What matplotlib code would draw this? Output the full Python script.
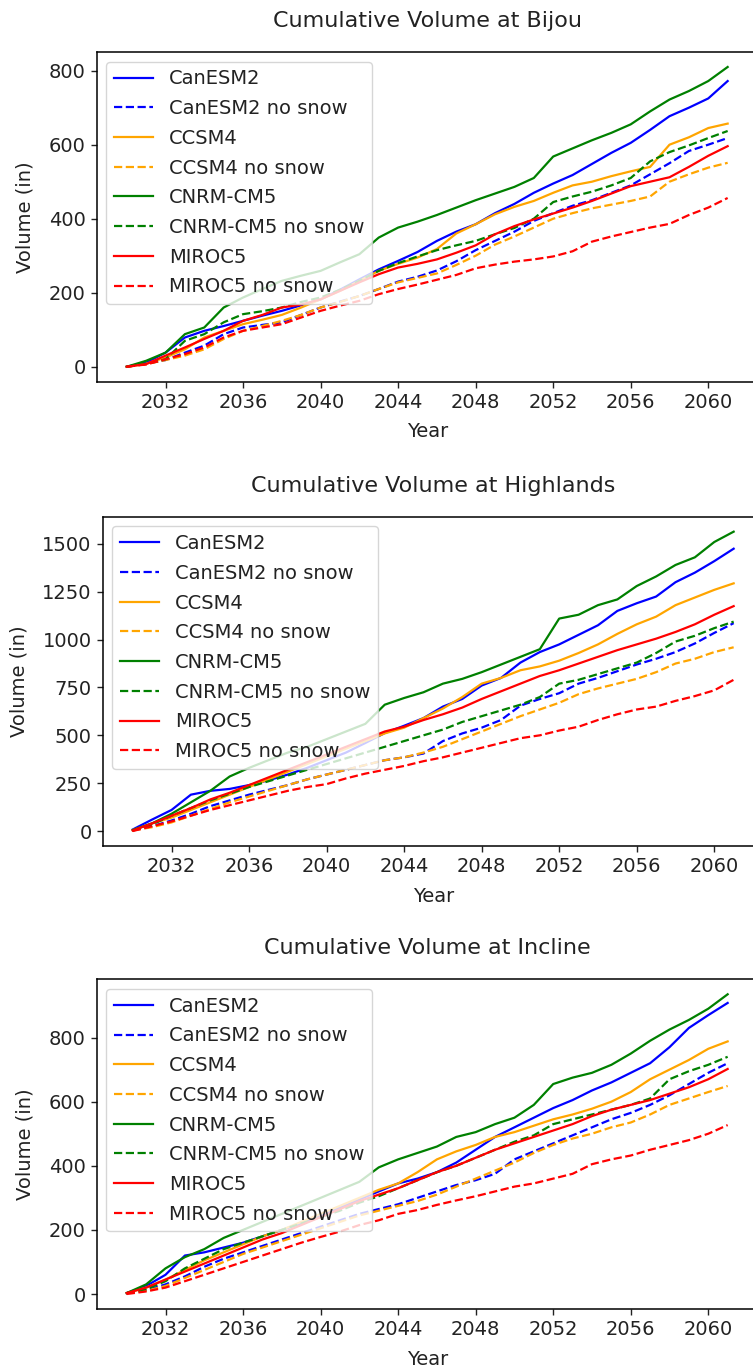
import numpy as np
import matplotlib
matplotlib.use('Agg')
import matplotlib.pyplot as plt

# yearly cumulative volume (in)
years = list(range(2030, 2062))

models = ['CanESM2', 'CCSM4', 'CNRM-CM5', 'MIROC5']
colors = ['blue', 'orange', 'green', 'red']
sites = ['Bijou', 'Highlands', 'Incline']

# Bijou
bijou_canesm2 = [0, 11, 38, 79, 97, 110, 124, 138, 151, 166, 182, 208, 236, 263, 286, 310,
                 340, 365, 385, 415, 440, 470, 495, 518, 548, 578, 605, 640, 677, 700, 725, 772]
bijou_canesm2_ns = [0, 8, 18, 38, 57, 88, 106, 113, 120, 140, 160, 176, 191, 210, 230, 243,
                    260, 285, 315, 340, 365, 394, 415, 435, 450, 470, 490, 520, 550, 583, 600, 618]
bijou_ccsm4 = [0, 8, 25, 47, 79, 97, 115, 127, 140, 160, 182, 205, 232, 259, 278, 295,
               318, 360, 385, 412, 432, 448, 470, 490, 500, 515, 528, 540, 600, 620, 645, 657]
bijou_ccsm4_ns = [0, 7, 18, 30, 47, 75, 97, 110, 124, 140, 160, 175, 191, 210, 228, 240,
                  252, 275, 300, 330, 352, 376, 400, 415, 428, 438, 448, 460, 500, 520, 538, 551]
bijou_cnrm = [0, 16, 38, 88, 106, 160, 187, 210, 232, 246, 259, 282, 304, 349, 376, 392,
              410, 430, 450, 468, 486, 510, 568, 590, 612, 632, 655, 690, 722, 745, 772, 810]
bijou_cnrm_ns = [0, 8, 20, 70, 88, 120, 142, 150, 160, 175, 187, 208, 232, 259, 280, 298,
                 315, 328, 340, 358, 375, 400, 445, 460, 473, 490, 510, 555, 580, 598, 618, 637]
bijou_miroc5 = [0, 7, 30, 52, 75, 97, 124, 140, 160, 168, 182, 205, 228, 250, 268, 278,
                290, 308, 328, 358, 380, 398, 414, 430, 448, 468, 488, 500, 512, 540, 570, 596]
bijou_miroc5_ns = [0, 6, 20, 34, 52, 79, 97, 106, 115, 133, 151, 165, 178, 196, 210, 222,
                   235, 248, 266, 276, 284, 290, 298, 312, 338, 352, 364, 376, 386, 410, 430, 456]

# Highlands
highlands_canesm2 = [8, 60, 110, 190, 210, 220, 240, 265, 295, 330, 370, 410, 460, 512, 550, 590,
                     650, 690, 760, 800, 880, 935, 975, 1025, 1075, 1150, 1190, 1225, 1300, 1350, 1410, 1475]
highlands_canesm2_ns = [3, 25, 55, 90, 130, 160, 190, 215, 240, 270, 295, 320, 345, 370, 385, 405,
                        470, 510, 540, 580, 655, 690, 720, 770, 800, 835, 870, 900, 935, 980, 1035, 1086]
highlands_ccsm4 = [5, 40, 70, 110, 150, 190, 230, 270, 310, 350, 390, 430, 470, 510, 540, 590,
                   640, 700, 770, 800, 840, 860, 890, 930, 975, 1030, 1080, 1120, 1180, 1220, 1260, 1294]
highlands_ccsm4_ns = [3, 20, 45, 80, 115, 150, 180, 210, 240, 270, 295, 320, 345, 370, 385, 410,
                      440, 480, 520, 560, 600, 635, 670, 715, 745, 770, 795, 830, 875, 900, 935, 960]
highlands_cnrm = [5, 40, 90, 150, 210, 285, 330, 370, 410, 440, 480, 520, 560, 660, 695, 725,
                  770, 795, 830, 870, 910, 950, 1110, 1130, 1180, 1210, 1280, 1330, 1390, 1430, 1510, 1564]
highlands_cnrm_ns = [3, 35, 80, 120, 160, 195, 230, 260, 290, 320, 350, 380, 410, 440, 470, 500,
                     530, 570, 600, 630, 660, 700, 770, 790, 820, 850, 880, 930, 990, 1020, 1060, 1094]
highlands_miroc5 = [3, 40, 80, 120, 165, 200, 240, 280, 320, 360, 400, 440, 480, 520, 545, 580,
                    610, 645, 690, 730, 770, 810, 840, 875, 910, 945, 975, 1005, 1040, 1080, 1130, 1175]
highlands_miroc5_ns = [0, 25, 50, 80, 110, 135, 160, 185, 210, 230, 245, 275, 300, 320, 340, 365,
                       385, 410, 435, 460, 485, 500, 525, 545, 580, 610, 635, 650, 680, 705, 735, 790]

# Incline
incline_canesm2 = [3, 25, 60, 120, 130, 145, 160, 180, 200, 220, 245, 270, 295, 320, 345, 360,
                   380, 410, 450, 490, 520, 550, 580, 605, 635, 660, 690, 720, 770, 830, 870, 908]
incline_canesm2_ns = [3, 12, 30, 55, 85, 110, 130, 150, 170, 190, 210, 230, 250, 265, 280, 300,
                      320, 340, 355, 375, 420, 445, 470, 495, 520, 545, 565, 590, 620, 655, 690, 720]
incline_ccsm4 = [3, 20, 45, 75, 105, 130, 155, 180, 200, 225, 250, 275, 300, 325, 345, 380,
                 420, 445, 465, 490, 505, 525, 545, 560, 578, 600, 630, 670, 700, 730, 765, 788]
incline_ccsm4_ns = [3, 10, 25, 50, 75, 100, 125, 145, 165, 185, 205, 225, 245, 260, 275, 290,
                    310, 335, 360, 385, 410, 440, 465, 485, 500, 520, 535, 560, 590, 610, 630, 649]
incline_cnrm = [3, 30, 80, 115, 140, 175, 200, 225, 250, 275, 300, 325, 350, 395, 420, 440,
                460, 490, 505, 530, 550, 590, 655, 675, 690, 715, 750, 790, 825, 855, 890, 935]
incline_cnrm_ns = [3, 15, 40, 80, 110, 140, 160, 180, 200, 220, 240, 260, 285, 305, 330, 355,
                   380, 400, 425, 450, 475, 495, 530, 545, 560, 575, 590, 610, 670, 695, 715, 740]
incline_miroc5 = [3, 20, 45, 70, 95, 120, 145, 170, 190, 215, 240, 265, 290, 310, 330, 355,
                  380, 400, 425, 450, 470, 490, 510, 530, 555, 575, 590, 605, 625, 645, 670, 702]
incline_miroc5_ns = [0, 8, 20, 40, 60, 80, 100, 120, 140, 160, 178, 195, 215, 230, 250, 262,
                     278, 292, 305, 320, 335, 345, 360, 375, 405, 420, 432, 450, 465, 480, 500, 527]

site_data = {
    'Bijou': [bijou_canesm2, bijou_canesm2_ns, bijou_ccsm4, bijou_ccsm4_ns,
              bijou_cnrm, bijou_cnrm_ns, bijou_miroc5, bijou_miroc5_ns],
    'Highlands': [highlands_canesm2, highlands_canesm2_ns, highlands_ccsm4, highlands_ccsm4_ns,
                  highlands_cnrm, highlands_cnrm_ns, highlands_miroc5, highlands_miroc5_ns],
    'Incline': [incline_canesm2, incline_canesm2_ns, incline_ccsm4, incline_ccsm4_ns,
                incline_cnrm, incline_cnrm_ns, incline_miroc5, incline_miroc5_ns],
}
yticks = {'Bijou': range(0, 801, 200), 'Highlands': range(0, 1501, 250), 'Incline': range(0, 801, 200)}

W, H = 753, 1370
fig = plt.figure(figsize=(W / 100, H / 100), dpi=100)
# axes boxes in pixels: left, top, bottom (width runs past the right edge like the original)
boxes = [(96.7, 52, 381.7), (102.7, 516.7, 846), (96.7, 979.3, 1309)]
ax_w = 661

fs = 14
txt = '#222222'
for site, (left, top, bottom) in zip(sites, boxes):
    ax = fig.add_axes([left / W, 1 - bottom / H, ax_w / W, (bottom - top) / H])
    series = site_data[site]
    for i, m in enumerate(models):
        ax.plot(years, series[2 * i], color=colors[i], lw=1.6, label=m)
        ax.plot(years, series[2 * i + 1], color=colors[i], lw=1.6, ls='--', label=m + ' no snow')
    ax.set_xticks(range(2032, 2061, 4))
    ax.set_yticks(yticks[site])
    ax.tick_params(labelsize=fs, length=4.5, width=1.0, colors=txt)
    ax.set_title('Cumulative Volume at ' + site, fontsize=16, pad=18, color=txt)
    ax.set_xlabel('Year', fontsize=fs, labelpad=7.5, color=txt)
    ax.set_ylabel('Volume (in)', fontsize=fs, labelpad=10, color=txt)
    leg = ax.legend(loc='upper left', fontsize=fs, labelspacing=0.55)
    for t in leg.get_texts():
        t.set_color(txt)
    for s in ax.spines.values():
        s.set_linewidth(1.1)

fig.savefig('out.png', dpi=100)
